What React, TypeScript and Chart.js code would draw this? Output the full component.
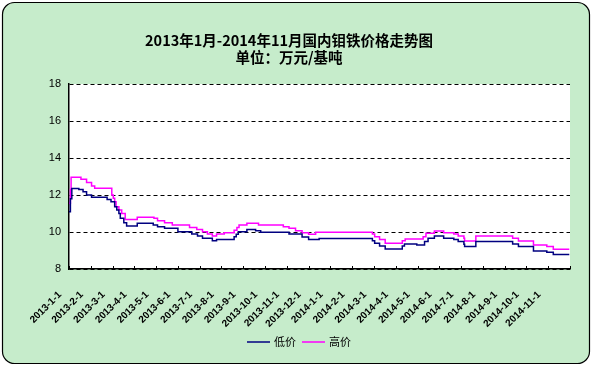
import React, { useEffect, useRef } from 'react';
import { Chart, registerables } from 'chart.js';

Chart.register(...registerables);

const monthLabels = [
  '2013-1-1', '2013-2-1', '2013-3-1', '2013-4-1', '2013-5-1', '2013-6-1',
  '2013-7-1', '2013-8-1', '2013-9-1', '2013-10-1', '2013-11-1', '2013-12-1',
  '2014-1-1', '2014-2-1', '2014-3-1', '2014-4-1', '2014-5-1', '2014-6-1',
  '2014-7-1', '2014-8-1', '2014-9-1', '2014-10-1', '2014-11-1',
];

const yTicks = [8, 10, 12, 14, 16, 18];

const titleLines = ['2013年1月-2014年11月国内钼铁价格走势图', '单位：万元/基吨'];
const seriesNames = ['低价', '高价'];

const lowDates = [
  '2013-01-01', '2013-01-03', '2013-01-05', '2013-01-15', '2013-01-21', '2013-01-26',
  '2013-02-02', '2013-02-22', '2013-02-27', '2013-03-04', '2013-03-07', '2013-03-10',
  '2013-03-12', '2013-03-17', '2013-03-21', '2013-04-05', '2013-04-27', '2013-05-03',
  '2013-05-13', '2013-06-01', '2013-06-20', '2013-06-28', '2013-07-05', '2013-07-19',
  '2013-07-25', '2013-08-19', '2013-08-22', '2013-08-25', '2013-09-06', '2013-09-18',
  '2013-09-25', '2013-11-04', '2013-11-22', '2013-12-01', '2013-12-16', '2014-02-27',
  '2014-03-02', '2014-03-09', '2014-03-17', '2014-04-10', '2014-04-13', '2014-04-30',
  '2014-05-11', '2014-05-16', '2014-05-25', '2014-06-07', '2014-06-21', '2014-06-27',
  '2014-07-05', '2014-07-06', '2014-07-22', '2014-09-12', '2014-09-20', '2014-10-11',
  '2014-10-30', '2014-11-08', '2014-11-30',
];
const lowValues = [
  11.1, 11.8, 12.35, 12.3, 12.18, 12.0,
  11.88, 11.76, 11.64, 11.37, 11.19, 11.0,
  10.74, 10.5, 10.32, 10.47, 10.38, 10.29,
  10.2, 10.01, 9.89, 9.78, 9.66, 9.53,
  9.6, 9.75, 9.88, 10.01, 10.14, 10.07,
  9.98, 9.89, 9.73, 9.6, 9.65, 9.53,
  9.39, 9.24, 9.08, 9.24, 9.35, 9.3,
  9.48, 9.66, 9.78, 9.66, 9.6, 9.48,
  9.34, 9.21, 9.48, 9.35, 9.21, 8.97,
  8.9, 8.79, 8.79,
];

const highDates = [
  '2013-01-01', '2013-01-03', '2013-01-04', '2013-01-18', '2013-01-26', '2013-02-02',
  '2013-02-06', '2013-02-28', '2013-03-02', '2013-03-04', '2013-03-06', '2013-03-10',
  '2013-03-14', '2013-03-19', '2013-04-05', '2013-04-28', '2013-05-03', '2013-05-13',
  '2013-05-24', '2013-06-17', '2013-06-27', '2013-07-05', '2013-07-12', '2013-07-19',
  '2013-07-25', '2013-08-05', '2013-08-19', '2013-08-23', '2013-08-26', '2013-09-06',
  '2013-09-22', '2013-10-27', '2013-11-04', '2013-11-13', '2013-11-22', '2013-12-01',
  '2013-12-11', '2014-02-27', '2014-03-02', '2014-03-09', '2014-03-17', '2014-04-10',
  '2014-04-14', '2014-05-09', '2014-05-13', '2014-05-25', '2014-06-07', '2014-06-21',
  '2014-06-27', '2014-07-05', '2014-07-06', '2014-07-22', '2014-09-12', '2014-09-20',
  '2014-10-11', '2014-10-30', '2014-11-08', '2014-11-30',
];
const highValues = [
  11.55, 12.3, 12.96, 12.85, 12.67, 12.49,
  12.36, 12.0, 11.82, 11.64, 11.37, 11.19,
  11.0, 10.68, 10.8, 10.74, 10.61, 10.5,
  10.38, 10.25, 10.14, 10.01, 9.89, 9.78,
  9.89, 9.96, 10.1, 10.25, 10.38, 10.47,
  10.38, 10.29, 10.2, 10.07, 9.96, 9.88,
  9.98, 9.89, 9.75, 9.6, 9.39, 9.53,
  9.62, 9.75, 9.93, 10.05, 9.96, 9.89,
  9.78, 9.66, 9.51, 9.78, 9.66, 9.51,
  9.3, 9.21, 9.07, 9.07,
];

const seriesColors = ['#000080', '#FF00FF'];

function toMonthIndex(s: string): number {
  const [y, m, d] = s.split('-').map(Number);
  const dim = new Date(y, m, 0).getDate();
  return (y - 2013) * 12 + (m - 1) + (d - 1) / dim;
}

function toPoints(dates: string[], values: number[]) {
  return dates.map((d, i) => ({ x: toMonthIndex(d), y: values[i] }));
}

const CJK = '"Noto Sans CJK SC", sans-serif';

const decor = {
  id: 'decor',
  beforeDraw(chart: any) {
    const { ctx, width, height, chartArea } = chart;
    ctx.save();
    ctx.fillStyle = '#ffffff';
    ctx.fillRect(0, 0, width, height);
    ctx.beginPath();
    ctx.roundRect(2.5, 2.5, 587, 361, 12);
    ctx.fillStyle = '#C6ECCB';
    ctx.fill();
    ctx.lineWidth = 1.2;
    ctx.strokeStyle = '#000000';
    ctx.stroke();
    ctx.fillStyle = '#ffffff';
    ctx.fillRect(chartArea.left, chartArea.top, chartArea.right - chartArea.left, chartArea.bottom - chartArea.top);
    ctx.restore();
  },
  afterDraw(chart: any) {
    const { ctx, chartArea } = chart;
    const xs = chart.scales.x;
    ctx.save();
    ctx.strokeStyle = '#000';
    ctx.lineWidth = 1;
    for (let i = 0; i <= monthLabels.length; i++) {
      const px = Math.round(xs.getPixelForValue(i)) + 0.5;
      ctx.beginPath();
      ctx.moveTo(px, chartArea.bottom);
      ctx.lineTo(px, chartArea.bottom - 3);
      ctx.stroke();
    }
    ctx.fillStyle = '#000';
    ctx.textAlign = 'center';
    ctx.textBaseline = 'middle';
    ctx.font = `bold 14.5px ${CJK}`;
    ctx.fillText(titleLines[0], 289, 40);
    ctx.fillText(titleLines[1], 289, 57);
    ctx.font = `11px ${CJK}`;
    ctx.textAlign = 'left';
    const legendX = [247, 302];
    seriesNames.forEach((name, i) => {
      const lx = legendX[i];
      ctx.strokeStyle = seriesColors[i];
      ctx.lineWidth = 1.5;
      ctx.beginPath();
      ctx.moveTo(lx, 342);
      ctx.lineTo(lx + 23, 342);
      ctx.stroke();
      ctx.fillStyle = '#000';
      ctx.fillText(name, lx + 27, 342);
    });
    ctx.restore();
  },
};

export default function App() {
  const ref = useRef<HTMLCanvasElement>(null);
  useEffect(() => {
    if (!ref.current) return;
    const chart = new Chart(ref.current, {
      type: 'line',
      data: {
        datasets: [
          {
            label: seriesNames[0],
            data: toPoints(lowDates, lowValues),
            borderColor: seriesColors[0],
            borderWidth: 1.5,
            pointRadius: 0,
            stepped: true,
            fill: false,
          },
          {
            label: seriesNames[1],
            data: toPoints(highDates, highValues),
            borderColor: seriesColors[1],
            borderWidth: 1.5,
            pointRadius: 0,
            stepped: true,
            fill: false,
          },
        ],
      },
      options: {
        responsive: false,
        animation: false,
        layout: { padding: { top: 84, right: 22, left: 0, bottom: 0 } },
        plugins: {
          legend: { display: false },
          title: { display: false },
          tooltip: { enabled: false },
        },
        scales: {
          x: {
            type: 'linear',
            min: 0,
            max: monthLabels.length,
            afterFit(scale: any) { scale.height = 98; },
            afterBuildTicks(scale: any) {
              scale.ticks = monthLabels.map((_, i) => ({ value: i }));
            },
            ticks: {
              autoSkip: false,
              minRotation: 45,
              maxRotation: 45,
              labelOffset: -9,
              padding: 12,
              color: '#000',
              font: { family: '"Liberation Sans", Arial', size: 10, weight: 'bold' },
              callback: (v: any) => monthLabels[Math.round(v)] ?? '',
            },
            grid: { display: false, drawOnChartArea: false },
            border: { display: true, color: '#000', width: 1.5 },
          },
          y: {
            min: 8,
            max: 18,
            afterFit(scale: any) { scale.width = 69; },
            afterBuildTicks(scale: any) {
              scale.ticks = yTicks.map((v) => ({ value: v }));
            },
            ticks: {
              color: '#000',
              padding: 8,
              font: { family: '"Liberation Sans", Arial', size: 11 },
            },
            grid: {
              color: '#000',
              lineWidth: 1,
              drawTicks: false,
            },
            border: { display: true, color: '#000', width: 1.5, dash: [4, 3] },
          },
        },
      },
      plugins: [decor],
    });
    return () => chart.destroy();
  }, []);
  return (
    <div style={{ position: 'absolute', left: 0, top: 0, width: 592, height: 367 }}>
      <canvas ref={ref} width={592} height={367} style={{ display: 'block' }} />
    </div>
  );
}
